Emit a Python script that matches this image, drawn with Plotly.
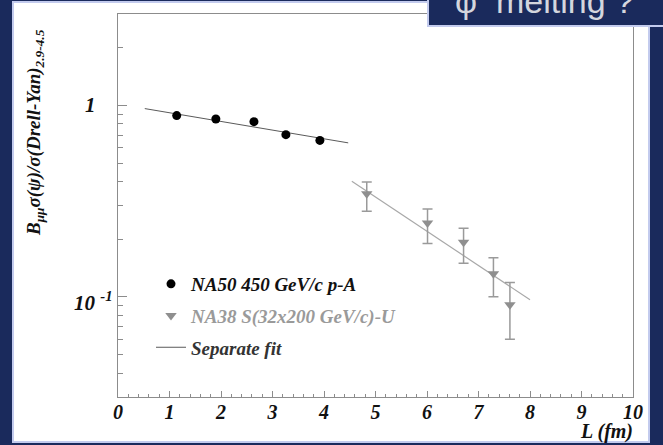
import math
import plotly.graph_objects as go

# NA50 p-A points: path length L (fm) and J/psi / Drell-Yan ratio
na50_L = [1.14, 1.90, 2.64, 3.26, 3.92]
na50_ratio = [0.884, 0.849, 0.822, 0.703, 0.656]
na50_err = [0.025, 0.022, 0.022, 0.020, 0.025]

# NA38 S-U points with asymmetric error bars (upper / lower ends)
na38_L = [4.83, 6.01, 6.71, 7.29, 7.61]
na38_ratio = [0.346, 0.243, 0.193, 0.132, 0.091]
na38_hi = [0.398, 0.288, 0.228, 0.160, 0.119]
na38_lo = [0.280, 0.190, 0.150, 0.100, 0.060]

# separate exponential fits (end points of each straight line on log scale)
fit_pA_L = [0.52, 4.47]
fit_pA_ratio = [0.962, 0.637]
fit_SU_L = [4.54, 8.00]
fit_SU_ratio = [0.401, 0.0966]

x_tick_vals = [0, 1, 2, 3, 4, 5, 6, 7, 8, 9, 10]
y_tick_vals = [0.1, 1]
y_tick_text = ["10 <sup>-1</sup>", "1"]
y_minor_vals = [0.04, 0.05, 0.06, 0.07, 0.08, 0.09,
                0.2, 0.3, 0.4, 0.5, 0.6, 0.7, 0.8, 0.9, 2]

NAVY = "#1a2a5c"
FRAME = "#8c8c8c"
SERIF = "Liberation Serif, Times New Roman, serif"

W, H = 663, 445
L_M, R_M, T_M, B_M = 118, 30, 14, 48
PW, PH = W - L_M - R_M, H - T_M - B_M


def px(x):
    return (x - L_M) / PW


def py(y):
    return (H - B_M - y) / PH


na38_plus = [h - v for h, v in zip(na38_hi, na38_ratio)]
na38_minus = [v - l for v, l in zip(na38_ratio, na38_lo)]

fig = go.Figure()

fig.add_trace(go.Scatter(
    x=fit_pA_L, y=fit_pA_ratio, mode="lines",
    line=dict(color="#5a5a5a", width=1),
    name="<b><i><span style='color:#333'>Separate fit</span></i></b>",
    legendgroup="c", legendrank=3, showlegend=True,
))
fig.add_trace(go.Scatter(
    x=fit_SU_L, y=fit_SU_ratio, mode="lines",
    line=dict(color="#a8a8a8", width=1.2),
    legendgroup="c", showlegend=False,
))
fig.add_trace(go.Scatter(
    x=na50_L, y=na50_ratio, mode="markers",
    marker=dict(symbol="circle", size=9, color="#000000"),
    error_y=dict(type="data", array=na50_err, color="#777", thickness=1, width=0),
    name="<b><i>NA50 450 GeV/c p-A</i></b>",
    legendgroup="a", legendrank=1,
))
fig.add_trace(go.Scatter(
    x=na38_L, y=na38_ratio, mode="markers",
    marker=dict(symbol="triangle-down", size=10, color="#8f8f8f"),
    error_y=dict(type="data", symmetric=False, array=na38_plus,
                 arrayminus=na38_minus, color="#9a9a9a", thickness=1.5, width=5),
    name="<b><i><span style='color:#9a9a9a'>NA38 S(32x200 GeV/c)-U</span></i></b>",
    legendgroup="b", legendrank=2,
))

# white panel and the title tab
fig.add_shape(type="rect", xref="paper", yref="paper",
              x0=px(13), x1=px(649), y0=py(442), y1=py(2),
              fillcolor="white", line=dict(color="#c3cbee", width=2), layer="below")
fig.add_shape(type="rect", xref="paper", yref="paper",
              x0=px(428), x1=px(666), y0=py(26), y1=py(-4),
              fillcolor=NAVY, line=dict(color="#c3cbee", width=2), layer="above")

annotations = [
    dict(text="φ  melting ?", xref="paper", yref="paper", x=px(544), y=py(1),
         xanchor="center", yanchor="middle", showarrow=False,
         font=dict(family="Liberation Sans, Arial, sans-serif", size=34, color="#d4d6de")),
    dict(text="<b><i>B<sub>μμ</sub>σ(ψ)/σ(Drell-Yan)<sub>2.9-4.5</sub></i></b>",
         xref="paper", yref="paper", x=px(35), y=py(133), textangle=-90,
         xanchor="center", yanchor="middle", showarrow=False,
         font=dict(family=SERIF, size=19, color="#111")),
    dict(text="<b><i>L (fm)</i></b>", xref="paper", yref="paper", x=px(635), y=py(431),
         xanchor="right", yanchor="middle", showarrow=False,
         font=dict(family=SERIF, size=20, color="#111")),
]
# y tick labels placed at their axis values
for v, t, xr, ys in zip(y_tick_vals, y_tick_text, [115, 98], [-5, 0]):
    annotations.append(dict(text="<b><i>" + t + "</i></b>", xref="paper", yref="y",
                            x=px(xr), y=math.log10(v), yshift=ys,
                            xanchor="right", yanchor="middle", showarrow=False,
                            font=dict(family=SERIF, size=21, color="#111")))

fig.update_layout(
    width=W, height=H,
    margin=dict(l=L_M, r=R_M, t=T_M, b=B_M),
    paper_bgcolor=NAVY, plot_bgcolor="white",
    annotations=annotations,
    showlegend=True,
    legend=dict(x=px(151), y=py(265), xanchor="left", yanchor="top",
                bgcolor="rgba(0,0,0,0)", borderwidth=0,
                traceorder="grouped", tracegroupgap=4,
                font=dict(family=SERIF, size=19, color="#111")),
)

fig.update_xaxes(
    range=[0, 10], tickvals=x_tick_vals,
    ticktext=["<b><i>%d</i></b>" % v for v in x_tick_vals],
    ticks="inside", ticklen=6, tickcolor=FRAME, tickwidth=1,
    minor=dict(dtick=0.2, ticks="inside", ticklen=3, tickcolor=FRAME),
    showline=True, linecolor=FRAME, linewidth=1.2, mirror=True,
    showgrid=False, zeroline=False, ticklabelstandoff=-3,
    tickfont=dict(family=SERIF, size=20, color="#111"),
)
fig.update_yaxes(
    type="log", range=[-1.5229, 0.4771],
    tickvals=y_tick_vals, showticklabels=False,
    ticks="inside", ticklen=9, tickcolor=FRAME, tickwidth=1,
    minor=dict(tickvals=y_minor_vals, ticks="inside", ticklen=5, tickcolor=FRAME),
    showline=True, linecolor=FRAME, linewidth=1.2, mirror=True,
    showgrid=False, zeroline=False,
)

fig.write_html("out.html")
